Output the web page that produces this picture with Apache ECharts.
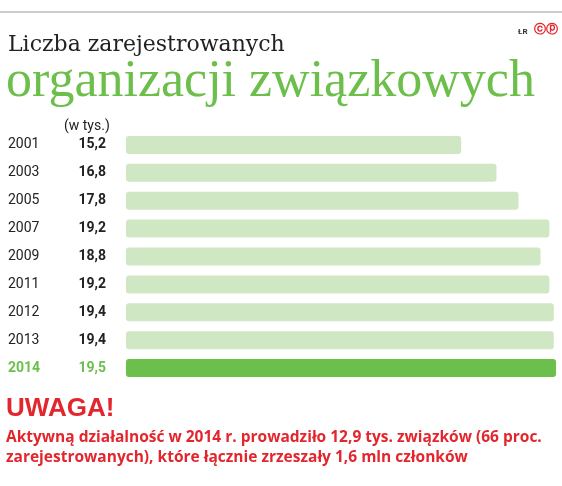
<!DOCTYPE html><html><head><meta charset="utf-8">
<script src="https://cdn.jsdelivr.net/npm/echarts@6/dist/echarts.min.js"></script>
<style>body{margin:0;background:#fff}#c{width:562px;height:486px}</style></head><body><div id="c"></div>
<script>
const years=['2001','2003','2005','2007','2009','2011','2012','2013','2014'];
const values=[15.2,16.8,17.8,19.2,18.8,19.2,19.4,19.4,19.5];
const ch=echarts.init(document.getElementById('c'));
const n=years.length;
ch.setOption({
 animation:false,
 grid:{left:126,right:6,top:131,bottom:104},
 xAxis:{type:'value',min:0,max:19.5,show:false},
 yAxis:{type:'category',inverse:true,data:years,axisLine:{show:false},axisTick:{show:false},
  axisLabel:{align:'left',margin:118,formatter:(v,i)=>{const s=i===n-1?'g':'';return '{y'+s+'|'+v+'}{v'+s+'|'+values[i].toFixed(1).replace('.',',')+'}';},
   rich:{y:{width:64,fontSize:14,color:'#222',fontFamily:'Roboto'},v:{width:34,align:'right',fontSize:14,fontWeight:'bold',color:'#222',fontFamily:'Roboto'},
         yg:{width:64,fontSize:14,color:'#6cbf4a',fontWeight:'bold',fontFamily:'Roboto'},vg:{width:34,align:'right',fontSize:14,fontWeight:'bold',color:'#6cbf4a',fontFamily:'Roboto'}}}},
 series:[{type:'bar',barWidth:18,data:values.map((v,i)=>({value:v,itemStyle:{color:i===n-1?'#6cbf4a':'#cfe8c3',borderRadius:3}}))}],
 graphic:[
  {type:'line',shape:{x1:0,y1:12,x2:562,y2:12},style:{stroke:'#999',lineWidth:1}},
  {type:'text',left:518,top:28,style:{text:'ŁR',font:'bold 8px Roboto',fill:'#333'}},
  {type:'text',left:534,top:24,style:{text:'ⓒⓟ',font:'bold 12px "DejaVu Sans"',fill:'#e3262d'}},
  {type:'text',left:8,top:34,style:{text:'Liczba zarejestrowanych',font:'22px "DejaVu Serif"',fill:'#222'}},
  {type:'text',left:6,top:56,style:{text:'organizacji związkowych',font:'52px "Liberation Serif"',fill:'#6cbf4a'}},
  {type:'text',left:64,top:119,style:{text:'(w tys.)',font:'14px Roboto',fill:'#222'}},
  {type:'text',left:6,top:396,style:{text:'UWAGA!',font:'bold 26px "Liberation Sans"',fill:'#e3262d'}},
  {type:'text',left:6,top:428,style:{text:'Aktywną działalność w 2014 r. prowadziło 12,9 tys. związków (66 proc.\nzarejestrowanych), które łącznie zrzeszały 1,6 mln członków',font:'bold 15.5px "Open Sans"',fill:'#e3262d',lineHeight:20}}
 ]
});
</script></body></html>
